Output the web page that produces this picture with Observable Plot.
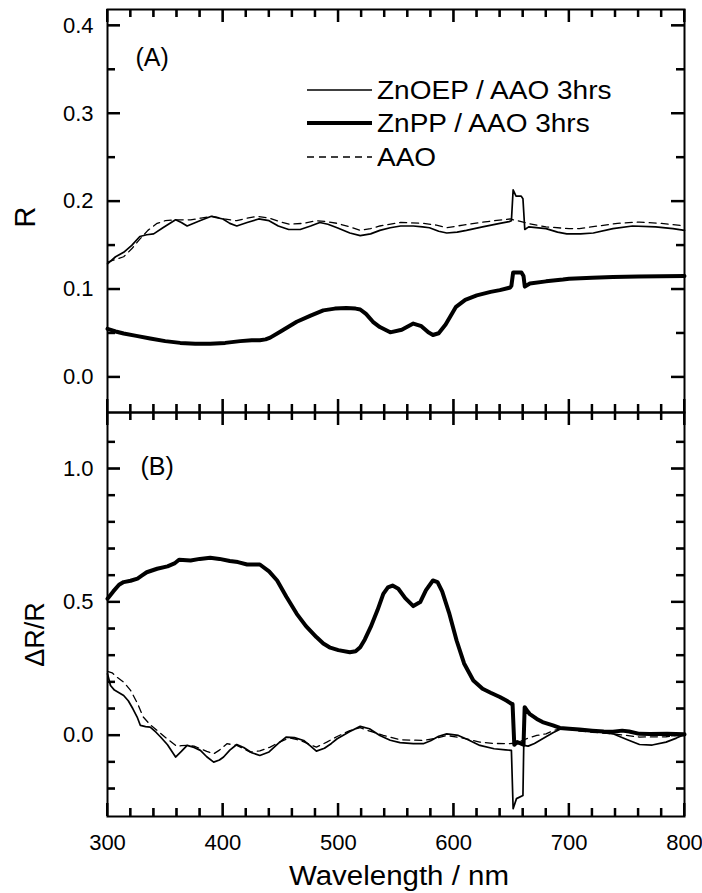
<!DOCTYPE html>
<html><head><meta charset="utf-8">
<script src="https://cdn.jsdelivr.net/npm/d3@7"></script>
<script src="https://cdn.jsdelivr.net/npm/@observablehq/plot@0.6"></script>
<style>
body{margin:0;background:#fff;}
#wrap{position:relative;width:702px;height:893px;font-family:"Liberation Sans",Arial,sans-serif;background:#fff;}
.panel{position:absolute;left:0;}
.leg{position:absolute;left:307px;display:flex;align-items:center;height:30px;font-size:25px;color:#000;white-space:nowrap;}
.leg span{margin-left:5px;display:inline-block;transform:scaleX(1.12);transform-origin:left center;}
</style></head><body><div id="wrap"><div class="panel" id="pa" style="top:0"></div><div class="panel" id="pb" style="top:410px"></div></div>
<script>
// ---------- Panel (A): reflectance R ----------
const wlA_ZnOEP = [300,307,314,321,328,334,340,348,359,364,369,380,390,400,406,412,421,431,440,448,457,467,476,484,491,499,510,519,528,536,545,554,565,573,579,587,594,603,611,625,640,648,650,651.5,654,658.5,660,661.6,665,680,690,698,710,721,738,755,775,790,800];
const rA_ZnOEP  = [0.129,0.137,0.142,0.150,0.160,0.162,0.163,0.170,0.179,0.176,0.172,0.178,0.183,0.180,0.175,0.172,0.176,0.180,0.178,0.172,0.168,0.168,0.172,0.176,0.174,0.170,0.164,0.161,0.163,0.167,0.170,0.172,0.172,0.171,0.170,0.166,0.164,0.165,0.167,0.171,0.175,0.177,0.178,0.213,0.206,0.206,0.203,0.168,0.171,0.169,0.165,0.163,0.163,0.164,0.169,0.172,0.171,0.169,0.167];

const wlA_ZnPP = [300,307,314,325,337,350,363,376,389,402,415,425,432,437,441,450,464,476,487,497,507,515,519,524,530,536,545,555,565,572,578,582,587,593,602,610,620,632,640,649,650,651.5,658.7,660.5,661.6,666,680,694.7,700,720,738,760,800];
const rA_ZnPP  = [0.055,0.052,0.0497,0.047,0.044,0.041,0.039,0.038,0.038,0.039,0.041,0.042,0.042,0.043,0.045,0.052,0.063,0.070,0.076,0.078,0.0788,0.078,0.077,0.072,0.063,0.057,0.051,0.054,0.061,0.058,0.051,0.048,0.050,0.060,0.080,0.088,0.093,0.097,0.099,0.102,0.104,0.119,0.119,0.115,0.103,0.1065,0.109,0.111,0.112,0.113,0.114,0.1145,0.115];

const wlA_AAO = [300,307,314,321,328,335,343,350,359,372,381,391,401,412,421,430,440,449,458,470,481,490,499,510,519,528,536,554,574,585,594,608,623,635,649,655,666,680,700,709,725,742,761,780,800];
const rA_AAO  = [0.131,0.134,0.137,0.146,0.157,0.167,0.175,0.178,0.179,0.179,0.181,0.183,0.180,0.178,0.181,0.183,0.181,0.177,0.174,0.175,0.178,0.177,0.175,0.171,0.167,0.169,0.172,0.176,0.175,0.173,0.170,0.173,0.176,0.178,0.180,0.178,0.1745,0.171,0.169,0.169,0.172,0.175,0.1765,0.175,0.172];

// ---------- Panel (B): ΔR/R ----------
const wlB_ZnPP = [300,305,310,314,320,326,330,334,343,352,358,362,372,380,389,397,406,413,421,432,440,447,455,464,472,481,487,493,500,510,515,519,523,528,534,539,543,547,552,558,565,571,576,582,586,590,596,602.5,609,617,625,632,640,646,650,651,652.5,655,658,660.5,661.5,664,666,672,677,686,692,700,709,720,730,738,746,752,761,770,785,800];
const dB_ZnPP  = [0.513,0.540,0.565,0.575,0.580,0.588,0.600,0.612,0.625,0.634,0.645,0.659,0.656,0.662,0.666,0.662,0.654,0.650,0.641,0.641,0.615,0.581,0.520,0.456,0.410,0.369,0.345,0.329,0.320,0.312,0.316,0.331,0.360,0.406,0.470,0.531,0.555,0.562,0.550,0.515,0.485,0.500,0.545,0.581,0.575,0.540,0.460,0.356,0.270,0.206,0.175,0.160,0.144,0.130,0.119,0.118,-0.035,-0.025,-0.030,-0.035,0.106,0.090,0.080,0.062,0.050,0.0375,0.028,0.025,0.022,0.018,0.015,0.014,0.018,0.015,0.006,0.005,0.006,0.004];

const wlB_ZnOEP = [300,302.6,306,310,314,318,322,325.7,328.5,333,337,342,346,352,359,364,369,375,380.5,386,392,397,400.6,406,412,418,425,432,440,448,455,462,470,476,481,488,494,499,510,519,527,536,545,553.5,565,573.6,580,587,594,604,612,622.7,635,645,650,651.5,654.4,660,660.7,664.5,670,680,686,693,700,710,725,738,750,761,772,784,793,800];
const dB_ZnOEP  = [0.231,0.1875,0.170,0.160,0.150,0.130,0.100,0.069,0.0375,0.033,0.031,0.012,-0.006,-0.035,-0.081,-0.060,-0.0375,-0.045,-0.056,-0.080,-0.100,-0.092,-0.081,-0.055,-0.034,-0.045,-0.065,-0.075,-0.062,-0.030,-0.006,-0.008,-0.019,-0.040,-0.059,-0.048,-0.030,-0.0125,0.015,0.034,0.025,0.0,-0.018,-0.027,-0.031,-0.031,-0.020,-0.003,0.006,0.0,-0.015,-0.0375,-0.050,-0.054,-0.056,-0.275,-0.237,-0.225,-0.0375,-0.040,-0.030,-0.005,0.010,0.025,0.027,0.022,0.014,0.006,-0.015,-0.034,-0.036,-0.025,-0.010,0.004];

const wlB_AAO = [300,304,308,314,320,326,331,337,343,351,360,364,369,375,380.5,386,392,397,403.5,412,418,423.7,432,441,449,458,468,476,481,490,499,510,519,528,539,553.5,573.6,585,594,608,622.7,635,648.6,655,663,672,680,686,693,700,709,720,738,761,784,800];
const dB_AAO  = [0.240,0.235,0.219,0.200,0.169,0.120,0.069,0.040,0.019,-0.010,-0.041,-0.038,-0.0375,-0.040,-0.050,-0.060,-0.069,-0.055,-0.031,-0.0375,-0.050,-0.0625,-0.058,-0.044,-0.025,-0.009,-0.020,-0.035,-0.044,-0.025,-0.004,0.018,0.029,0.015,0.0,-0.016,-0.019,-0.010,0.0,-0.010,-0.025,-0.030,-0.031,-0.028,-0.0125,0.0,0.006,0.018,0.025,0.024,0.016,0.012,0.006,-0.006,-0.005,0.004];

// ---------- ticks & labels ----------
const xMajor = [300,400,500,600,700,800];
const xMinor = [320,340,360,380,420,440,460,480,520,540,560,580,620,640,660,680,720,740,760,780];
const yMajorA = [0.0,0.1,0.2,0.3,0.4];
const yMinorA = [0.05,0.15,0.25,0.35];
const yMajorB = [0.0,0.5,1.0];
const yMinorB = [-0.2,-0.1,0.1,0.2,0.3,0.4,0.6,0.7,0.8,0.9,1.1];
const seriesNames = ["ZnOEP / AAO 3hrs","ZnPP / AAO 3hrs","AAO"];
const xTitle = "Wavelength / nm";
const yTitleA = "R";
const yTitleB = "\u0394R/R";
const panelLabels = ["(A)","(B)"];

const rows = (xs, ys) => xs.map((x, i) => ({x, y: ys[i]}));

const FONT = "'Liberation Sans', Arial, Helvetica, sans-serif";
const W = 702;
const ML = 107, MR = 18;
const FW = W - ML - MR;          // frame width in px
const MAJ = 13, MIN = 8;         // tick lengths in px
const TICK = {stroke: "black", strokeWidth: 2};

function seriesMarks(aao, znoep, znpp) {
  return [
    Plot.line(rows(...aao), {x: "x", y: "y", stroke: "black", strokeWidth: 1.3, strokeDasharray: "7,5"}),
    Plot.line(rows(...znoep), {x: "x", y: "y", stroke: "black", strokeWidth: 1.7}),
    Plot.line(rows(...znpp), {x: "x", y: "y", stroke: "black", strokeWidth: 4, strokeLinejoin: "round"})
  ];
}

function tickRules(yMajor, yMinor, FH) {
  return [
    Plot.ruleX(xMajor.slice(), {...TICK, x: d => d, insetTop: FH - MAJ}),
    Plot.ruleX(xMinor.slice(), {...TICK, x: d => d, insetTop: FH - MIN}),
    Plot.ruleX(xMajor.slice(), {...TICK, x: d => d, insetBottom: FH - MAJ}),
    Plot.ruleX(xMinor.slice(), {...TICK, x: d => d, insetBottom: FH - MIN}),
    Plot.ruleY(yMajor.slice(), {...TICK, y: d => d, insetRight: FW - MAJ}),
    Plot.ruleY(yMinor.slice(), {...TICK, y: d => d, insetRight: FW - MIN}),
    Plot.ruleY(yMajor.slice(), {...TICK, y: d => d, insetLeft: FW - MAJ}),
    Plot.ruleY(yMinor.slice(), {...TICK, y: d => d, insetLeft: FW - MIN})
  ];
}

const style = {fontFamily: FONT, fontSize: "22px", color: "black"};

// panel A: frame from y=9 to y=412 of the page
const HA = 414, FHA = 403;
const plotA = Plot.plot({
  width: W, height: HA,
  marginTop: 9, marginBottom: HA - 9 - FHA, marginLeft: ML, marginRight: MR,
  style,
  x: {domain: [300, 800]},
  y: {domain: [-0.0402, 0.4183]},
  marks: [
    ...tickRules(yMajorA, yMinorA, FHA),
    Plot.frame({stroke: "black", strokeWidth: 2}),
    ...seriesMarks([wlA_AAO, rA_AAO], [wlA_ZnOEP, rA_ZnOEP], [wlA_ZnPP, rA_ZnPP]),
    Plot.axisY(yMajorA.slice(), {anchor: "left", tickSize: 0, tickPadding: 14, tickFormat: d3.format(".1f"), label: null, fontSize: 22}),
    Plot.axisX(xMajor.slice(), {anchor: "bottom", tickSize: 0, tickFormat: () => "", label: null}),
    Plot.text([yTitleA], {frameAnchor: "left", textAnchor: "middle", lineAnchor: "middle", dx: -82, dy: 6, rotate: -90, fontSize: 29}),
    Plot.text([panelLabels[0]], {frameAnchor: "top-left", dx: 28, dy: 39, textAnchor: "start", lineAnchor: "top", fontSize: 25})
  ]
});

// panel B: placed at page y=410; frame from page y=412 to y=816
const HB = 483, FHB = 404;
const plotB = Plot.plot({
  width: W, height: HB,
  marginTop: 2, marginBottom: HB - 2 - FHB, marginLeft: ML, marginRight: MR,
  style,
  x: {domain: [300, 800]},
  y: {domain: [-0.304, 1.211]},
  marks: [
    ...tickRules(yMajorB, yMinorB, FHB),
    Plot.frame({stroke: "black", strokeWidth: 2}),
    ...seriesMarks([wlB_AAO, dB_AAO], [wlB_ZnOEP, dB_ZnOEP], [wlB_ZnPP, dB_ZnPP]),
    Plot.axisY(yMajorB.slice(), {anchor: "left", tickSize: 0, tickPadding: 14, tickFormat: d3.format(".1f"), label: null, fontSize: 22}),
    Plot.axisX(xMajor.slice(), {anchor: "bottom", tickSize: 0, tickPadding: 18, label: null, fontSize: 22}),
    Plot.text([yTitleB], {frameAnchor: "left", textAnchor: "middle", lineAnchor: "middle", dx: -72, dy: 20, rotate: -90, fontSize: 27}),
    Plot.text([xTitle], {frameAnchor: "bottom", textAnchor: "middle", lineAnchor: "middle", dx: 3, dy: 60, fontSize: 27}),
    Plot.text([panelLabels[1]], {frameAnchor: "top-left", dx: 33, dy: 45, textAnchor: "start", lineAnchor: "top", fontSize: 25})
  ]
});

// inward ticks placed through each plot's own scales (fallback layer)
function addTicks(plot, yMajor, yMinor) {
  const sx = plot.scale("x"), sy = plot.scale("y");
  const [x0, x1] = sx.range, [yb, yt] = sy.range;
  const g = d3.select(plot).append("g").attr("stroke", "black").attr("stroke-width", 2);
  const seg = (a, b, c, d) => g.append("path").attr("d", `M${a},${b}L${c},${d}`);
  for (const [vals, L] of [[xMajor, MAJ], [xMinor, MIN]]) for (const v of vals) {
    const px = sx.apply(v);
    seg(px, yb, px, yb - L); seg(px, yt, px, yt + L);
  }
  for (const [vals, L] of [[yMajor, MAJ], [yMinor, MIN]]) for (const v of vals) {
    const py = sy.apply(v);
    seg(x0, py, x0 + L, py); seg(x1, py, x1 - L, py);
  }
}
addTicks(plotA, yMajorA, yMinorA);
addTicks(plotB, yMajorB, yMinorB);

document.getElementById("pa").appendChild(plotA);
document.getElementById("pb").appendChild(plotB);

// the reference's title text is slightly wider than the font: stretch it
d3.select(plotB).selectAll("text").filter(function () { return this.textContent === xTitle; })
  .attr("textLength", 220).attr("lengthAdjust", "spacingAndGlyphs");

// legend (panel A, top right)
const wrap = document.getElementById("wrap");
const legendRows = [
  {name: seriesNames[0], y: 90, width: 1.7, dash: null},
  {name: seriesNames[1], y: 123, width: 4, dash: null},
  {name: seriesNames[2], y: 157, width: 1.3, dash: "7,5"}
];
for (const r of legendRows) {
  const d = document.createElement("div");
  d.className = "leg";
  d.style.top = (r.y - 15) + "px";
  d.innerHTML = `<svg width="65" height="30"><line x1="0" x2="65" y1="15" y2="15" stroke="black" stroke-width="${r.width}" ${r.dash ? `stroke-dasharray="${r.dash}"` : ""}/></svg><span>${r.name}</span>`;
  wrap.appendChild(d);
}
</script>
</body></html>
